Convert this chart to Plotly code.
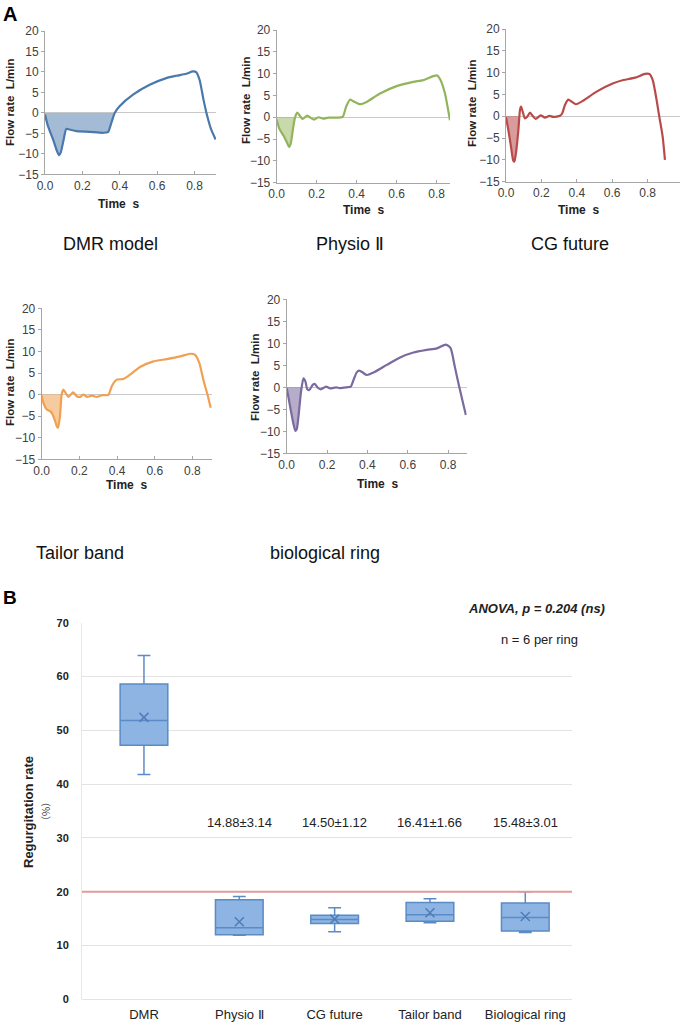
import plotly.graph_objects as go

W, H = 684, 1025


def px(x):
    return x / W


def py(y):
    return 1 - y / H


# ---------------- Panel A data (time s, flow rate L/min) ----------------
dmr_t = [0, 0.016, 0.043, 0.064, 0.075, 0.084, 0.1, 0.114, 0.132, 0.168, 0.239, 0.31, 0.337, 0.355,
         0.373, 0.399, 0.471, 0.56, 0.649, 0.702, 0.756, 0.791, 0.809, 0.827, 0.848, 0.866, 0.889, 0.913]
dmr_q = [-0.4, -3.24, -6.48, -9.31, -10.36, -9.72, -6.48, -3.89, -4.05, -4.45, -4.62, -4.86, -4.7, -2.43,
         0, 1.62, 4.45, 6.88, 8.5, 9.07, 9.55, 10.12, 9.96, 8.1, 3.24, -0.4, -4.05, -6.48]

physio_t = [0, 0.013, 0.033, 0.05, 0.062, 0.07, 0.083, 0.092, 0.103, 0.117, 0.13, 0.153, 0.17, 0.187,
            0.21, 0.233, 0.258, 0.3, 0.33, 0.347, 0.367, 0.383, 0.417, 0.45, 0.517, 0.6, 0.683, 0.733,
            0.783, 0.803, 0.82, 0.842, 0.858, 0.867]
physio_q = [-0.54, -2.6, -4.14, -5.67, -6.82, -6.05, -2.22, 0, 1.07, 0.23, -0.38, 0.38, -0.15, -0.54,
            0, -0.31, -0.08, -0.08, 0.08, 2.38, 4.06, 3.68, 2.99, 3.52, 5.44, 7.13, 8.12, 8.51,
            9.43, 9.58, 8.51, 5.44, 1.61, -0.69]

cg_t = [0, 0.013, 0.028, 0.041, 0.047, 0.056, 0.07, 0.079, 0.085, 0.094, 0.107, 0.12, 0.136, 0.15,
        0.168, 0.196, 0.22, 0.245, 0.267, 0.305, 0.318, 0.333, 0.352, 0.371, 0.395, 0.427, 0.512,
        0.606, 0.663, 0.729, 0.785, 0.81, 0.829, 0.851, 0.866, 0.885, 0.898]
cg_q = [-0.2, -3.1, -6.9, -10.2, -10.4, -8.5, -3.1, 1.45, 2.2, 1.1, -0.5, -0.1, 0.85, 0.1,
        -0.6, 0.2, -0.3, 0.1, -0.15, 0.1, 0.7, 2.6, 3.8, 3.35, 2.75, 3.35, 5.65,
        7.55, 8.3, 8.85, 9.7, 9.7, 8.3, 3.7, -0.1, -4.65, -10.0]

tailor_t = [0, 0.009, 0.027, 0.044, 0.058, 0.071, 0.08, 0.087, 0.097, 0.106, 0.115, 0.127, 0.142,
            0.159, 0.168, 0.186, 0.204, 0.221, 0.242, 0.265, 0.292, 0.319, 0.354, 0.372, 0.398,
            0.434, 0.469, 0.522, 0.593, 0.664, 0.735, 0.788, 0.814, 0.837, 0.858, 0.88, 0.897]
tailor_q = [-0.23, -1.92, -3.46, -3.85, -4.62, -6.15, -7.31, -7.69, -5.0, 0, 1.15, 0.38, -0.54,
            0.23, 0.54, -0.38, -0.54, 0, -0.54, -0.23, -0.54, -0.15, -0.08, 1.92, 3.46,
            3.62, 4.62, 6.38, 7.69, 8.23, 8.85, 9.46, 9.23, 7.31, 3.46, 0, -3.08]

bio_t = [0, 0.008, 0.02, 0.033, 0.043, 0.05, 0.06, 0.071, 0.083, 0.093, 0.102, 0.112, 0.129, 0.14,
         0.154, 0.169, 0.195, 0.215, 0.245, 0.264, 0.298, 0.317, 0.331, 0.347, 0.36, 0.377, 0.397,
         0.43, 0.496, 0.562, 0.628, 0.694, 0.744, 0.789, 0.812, 0.833, 0.855, 0.874, 0.888]
bio_q = [-0.2, -2.1, -5.15, -8.2, -9.9, -9.5, -5.9, -1.0, 2.05, 1.3, -0.45, -0.6, 0.55, 0.75,
         -0.1, -0.45, 0.15, -0.25, 0, -0.2, 0, 0.15, 1.65, 3.4, 3.8, 3.35, 2.8,
         3.35, 5.1, 6.8, 7.9, 8.5, 8.85, 9.7, 8.9, 4.7, 0.1, -3.6, -6.3]

curve_names = ["DMR model", "Physio Ⅱ", "CG future", "Tailor band", "biological ring"]
x_ticks = [0.0, 0.2, 0.4, 0.6, 0.8]
y_ticks = [-15, -10, -5, 0, 5, 10, 15, 20]

# ---------------- Panel B data (regurgitation rate %) ----------------
rings = ["DMR", "Physio Ⅱ", "CG future", "Tailor band", "Biological ring"]
lower = [41.8, 11.9, 12.55, 14.25, 12.4]
q1 = [47.2, 12.0, 14.1, 14.5, 12.7]
median = [51.8, 13.3, 14.85, 15.7, 15.2]
q3 = [58.6, 18.5, 15.6, 18.0, 17.9]
upper = [63.9, 19.1, 17.0, 18.7, 20.0]
means = [52.4, 14.4, 14.9, 16.1, 15.4]
stat_labels = ["", "14.88±3.14", "14.50±1.12", "16.41±1.66", "15.48±3.01"]
stat_label_level = 32.8
threshold = 20
b_ticks = [0, 10, 20, 30, 40, 50, 60, 70]

# ---------------- Layout specs ----------------
panels = [
    dict(t=dmr_t, q=dmr_q, line="#4A78AC", fill="rgba(74,120,172,0.5)",
         xd=(45, 216), yd=(31, 174.3), xmax=0.915, cap=(110, 244), yt=(10, 102), xt=(118, 204)),
    dict(t=physio_t, q=physio_q, line="#92B45A", fill="rgba(146,180,90,0.5)",
         xd=(276.7, 450), yd=(30, 182.7), xmax=0.867, cap=(350, 244), yt=(246, 100), xt=(363, 210)),
    dict(t=cg_t, q=cg_q, line="#B84B4A", fill="rgba(184,75,74,0.55)",
         xd=(506, 680), yd=(29, 181.7), xmax=0.983, cap=(570, 244), yt=(472, 103), xt=(578, 210)),
    dict(t=tailor_t, q=tailor_q, line="#F0A050", fill="rgba(240,160,80,0.55)",
         xd=(41.7, 212), yd=(308.3, 459.3), xmax=0.904, cap=(80, 553), yt=(10, 382), xt=(126, 485)),
    dict(t=bio_t, q=bio_q, line="#7A6A9E", fill="rgba(122,106,158,0.55)",
         xd=(286.7, 466.7), yd=(299.3, 453.3), xmax=0.892, cap=(325, 553), yt=(255, 377), xt=(377, 484)),
]

fig = go.Figure()
annotations = []
layout = dict()
FONT = "Liberation Sans, Arial, sans-serif"


def ann(text, x, y, size, xanchor="center", angle=0, family=FONT, color="#222222", **kw):
    d = dict(text=text, x=x, y=y, xref=kw.pop("xref", "paper"), yref=kw.pop("yref", "paper"),
             xanchor=xanchor, yanchor="middle", showarrow=False, textangle=angle,
             font=dict(family=family, size=size, color=color))
    d.update(kw)
    annotations.append(d)


def negative_lobe(t, q):
    """Initial regurgitant (negative) part of the curve, closed at the zero crossing."""
    xs, ys = [], []
    for i in range(len(t)):
        if q[i] <= 0:
            xs.append(t[i])
            ys.append(q[i])
        else:
            if i > 0:
                f = q[i - 1] / (q[i - 1] - q[i])
                xs.append(t[i - 1] + f * (t[i] - t[i - 1]))
                ys.append(0)
            break
    return xs, ys


for i, p in enumerate(panels, start=1):
    xa = "x" if i == 1 else f"x{i}"
    ya = "y" if i == 1 else f"y{i}"
    fx, fy = negative_lobe(p["t"], p["q"])
    fig.add_trace(go.Scatter(x=fx, y=fy, mode="lines", fill="tozeroy", fillcolor=p["fill"],
                             line=dict(width=0, shape="spline", smoothing=0.6), xaxis=xa, yaxis=ya,
                             hoverinfo="skip", showlegend=False))
    fig.add_trace(go.Scatter(x=p["t"], y=p["q"], mode="lines",
                             line=dict(color=p["line"], width=2.2, shape="spline", smoothing=0.6),
                             xaxis=xa, yaxis=ya, showlegend=False))
    layout["xaxis" if i == 1 else f"xaxis{i}"] = dict(
        domain=[px(p["xd"][0]), px(p["xd"][1])], range=[0, p["xmax"]], anchor=ya, automargin=False,
        tickvals=x_ticks, ticktext=[f"{v:.1f}" for v in x_ticks],
        showline=True, linecolor="#A6A6A6", linewidth=1, ticks="inside", ticklen=3,
        tickcolor="#A6A6A6", showgrid=False, zeroline=False,
        tickfont=dict(family=FONT, size=12, color="#404040"))
    layout["yaxis" if i == 1 else f"yaxis{i}"] = dict(
        domain=[py(p["yd"][1]), py(p["yd"][0])], range=[-15, 20], anchor=xa, automargin=False,
        tickvals=y_ticks, showline=True, linecolor="#A6A6A6", linewidth=1, ticks="outside",
        ticklen=3, tickcolor="#A6A6A6", showgrid=False, zeroline=True, zerolinecolor="#C8C8C8",
        zerolinewidth=1, tickfont=dict(family=FONT, size=12, color="#404040"))
    ann("<b>Flow rate\u00a0 L/min</b>", px(p["yt"][0]), py(p["yt"][1]), 11.5, angle=-90)
    ann("<b>Time\u00a0 s</b>", px(p["xt"][0]), py(p["xt"][1]), 12)
    ann(curve_names[i - 1], px(p["cap"][0]), py(p["cap"][1]), 18, color="#111111")

# ---------------- Panel B ----------------
pos = list(range(len(rings)))
fig.add_trace(go.Box(x=pos, q1=q1, median=median, q3=q3, lowerfence=lower, upperfence=upper,
                     width=0.5, whiskerwidth=0.27, fillcolor="#8DB4E2",
                     line=dict(color="#5B8BC5", width=1.5), boxpoints=False,
                     xaxis="x6", yaxis="y6", showlegend=False))
fig.add_trace(go.Scatter(x=pos, y=means, mode="markers",
                         marker=dict(symbol="x-thin", size=9, line=dict(color="#4F7DB8", width=1.5)),
                         xaxis="x6", yaxis="y6", showlegend=False))

layout["xaxis6"] = dict(domain=[px(82), px(572)], range=[-0.65, 4.49], anchor="y6", automargin=False,
                        tickvals=pos, ticktext=rings, showgrid=False, zeroline=False,
                        showline=False, ticks="", ticklabelstandoff=6,
                        tickfont=dict(family=FONT, size=13, color="#222222"))
layout["yaxis6"] = dict(domain=[py(999.3), py(622.7)], range=[0, 70], anchor="x6", automargin=False,
                        tickvals=b_ticks, showgrid=True, gridcolor="#E3E3E3", gridwidth=1,
                        zeroline=True, zerolinecolor="#E3E3E3", zerolinewidth=1,
                        showline=True, linecolor="#E8E8E8", ticks="", ticklabelstandoff=10,
                        tickfont=dict(family=FONT, size=11, color="#222222", weight="bold"))

shapes = [dict(type="line", xref="x6 domain", yref="y6", x0=0, x1=1, y0=threshold, y1=threshold,
               line=dict(color="#E29A9A", width=2))]

for k, lab in enumerate(stat_labels):
    if lab:
        ann(lab, pos[k], stat_label_level, 13, xref="x6", yref="y6")

ann("<b><i>ANOVA, p = 0.204 (ns)</i></b>", px(607), py(608), 13, xanchor="right")
ann("n = 6 per ring", px(580), py(639), 13, xanchor="right")
ann("<b>Regurgitation rate</b>", px(28), py(812), 13, angle=-90)
ann("（%）", px(45), py(812), 10, angle=-90, family="Noto Sans CJK SC, sans-serif", color="#444444")
ann("<b>A</b>", px(10), py(14), 20, color="#000000")
ann("<b>B</b>", px(10), py(597), 19, color="#000000")

fig.update_layout(width=W, height=H, margin=dict(l=0, r=0, t=0, b=0),
                  paper_bgcolor="white", plot_bgcolor="white",
                  annotations=annotations, shapes=shapes, **layout)

fig.write_html("out.html")
